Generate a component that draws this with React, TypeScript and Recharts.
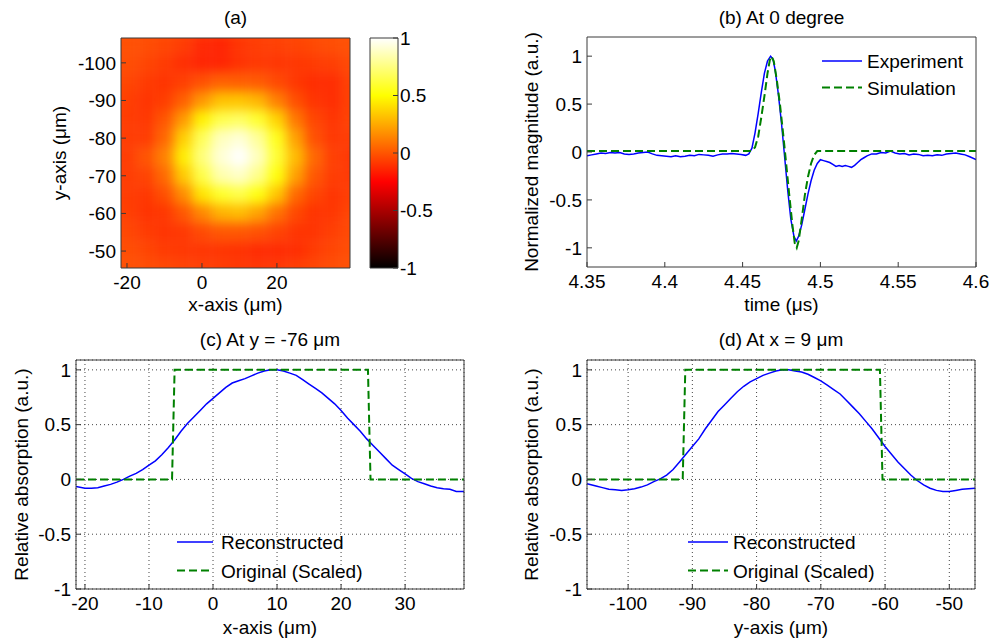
import React from "react";
import { ComposedChart, Line, XAxis, YAxis, CartesianGrid, ReferenceArea, Legend } from "recharts";

// (a) reconstructed map, one value per 5 um cell (rows top -> bottom)
const mapXCenters = [-25, -20, -15, -10, -5, 0, 5, 10, 15, 20, 25, 30, 35, 40];
const mapYCenters = [-110, -105, -100, -95, -90, -85, -80, -75, -70, -65, -60, -55, -50, -45];
const mapValues = [
  [-0.02, -0.02, -0.02, -0.02, -0.04, -0.04, -0.05, -0.05, -0.05, -0.04, -0.03, -0.02, -0.02, -0.02],
  [-0.02, -0.02, -0.03, -0.05, -0.08, -0.14, -0.15, -0.1, -0.08, -0.07, -0.06, -0.04, -0.03, -0.02],
  [-0.03, -0.03, -0.05, -0.08, -0.12, -0.15, -0.15, -0.11, -0.09, -0.1, -0.09, -0.08, -0.07, -0.04],
  [-0.03, -0.05, -0.08, -0.1, -0.07, -0.02, 0.03, 0.02, 0.01, -0.04, -0.09, -0.12, -0.12, -0.06],
  [-0.04, -0.07, -0.1, -0.07, 0.03, 0.19, 0.32, 0.33, 0.28, 0.12, -0.02, -0.1, -0.12, -0.06],
  [-0.05, -0.08, -0.09, 0.0, 0.2, 0.46, 0.65, 0.69, 0.59, 0.37, 0.1, -0.05, -0.1, -0.06],
  [-0.05, -0.08, -0.08, 0.05, 0.36, 0.67, 0.87, 0.92, 0.8, 0.55, 0.22, -0.02, -0.09, -0.08],
  [-0.06, -0.08, -0.01, 0.13, 0.45, 0.74, 0.92, 1.0, 0.87, 0.6, 0.3, 0.05, -0.07, -0.1],
  [-0.06, -0.08, -0.06, 0.06, 0.34, 0.64, 0.84, 0.89, 0.77, 0.52, 0.22, 0.0, -0.08, -0.09],
  [-0.05, -0.08, -0.09, -0.02, 0.16, 0.42, 0.58, 0.64, 0.53, 0.33, 0.06, -0.05, -0.1, -0.07],
  [-0.04, -0.07, -0.1, -0.09, 0.0, 0.14, 0.27, 0.3, 0.22, 0.08, -0.04, -0.1, -0.09, -0.05],
  [-0.02, -0.05, -0.08, -0.1, -0.09, -0.04, 0.0, 0.0, -0.02, -0.06, -0.1, -0.1, -0.07, -0.04],
  [-0.02, -0.03, -0.05, -0.08, -0.09, -0.1, -0.1, -0.11, -0.13, -0.13, -0.12, -0.08, -0.05, -0.03],
  [-0.02, -0.02, -0.03, -0.04, -0.06, -0.07, -0.08, -0.09, -0.1, -0.09, -0.07, -0.05, -0.03, -0.02],
];
const mapXTicks = [-20, 0, 20];
const mapYTicks = [-100, -90, -80, -70, -60, -50];
const barTicks = [-1, -0.5, 0, 0.5, 1];

// (b) pulse at 0 degree
const expTime = [
  4.35, 4.353, 4.356, 4.359, 4.362, 4.365, 4.368, 4.371, 4.374, 4.377, 4.38, 4.383, 4.386, 4.389, 4.392,
  4.395, 4.398, 4.401, 4.404, 4.407, 4.41, 4.413, 4.416, 4.419, 4.422, 4.425, 4.428, 4.431, 4.434, 4.437,
  4.44, 4.443, 4.446, 4.449, 4.452, 4.454, 4.456, 4.458, 4.46, 4.462, 4.464, 4.466, 4.468, 4.4695, 4.471,
  4.473, 4.475, 4.477, 4.479, 4.481, 4.483, 4.4845, 4.486, 4.488, 4.49, 4.492, 4.494, 4.496, 4.498, 4.5,
  4.502, 4.504, 4.506, 4.508, 4.51, 4.512, 4.514, 4.516, 4.518, 4.52, 4.522, 4.524, 4.526, 4.528, 4.53,
  4.533, 4.536, 4.539, 4.542, 4.545, 4.548, 4.551, 4.554, 4.557, 4.56, 4.563, 4.566, 4.569, 4.572, 4.575,
  4.578, 4.581, 4.584, 4.587, 4.59, 4.593, 4.596, 4.6,
];
const expMag = [
  -0.04, -0.03, -0.02, -0.01, -0.015, -0.005, -0.01, -0.005, -0.02, -0.025, -0.02, -0.01, -0.005, 0, -0.02,
  -0.035, -0.04, -0.045, -0.05, -0.04, -0.05, -0.045, -0.035, -0.04, -0.025, -0.03, -0.035, -0.045, -0.03, -0.02,
  -0.02, -0.015, -0.02, -0.025, -0.035, -0.02, 0.04, 0.2, 0.4, 0.62, 0.82, 0.95, 1.0, 0.97, 0.85,
  0.6, 0.3, -0.05, -0.4, -0.7, -0.88, -0.93, -0.88, -0.76, -0.6, -0.44, -0.3, -0.19, -0.12, -0.08,
  -0.09, -0.1, -0.11, -0.13, -0.15, -0.14, -0.15, -0.14, -0.15, -0.16, -0.14, -0.11, -0.08, -0.06, -0.04,
  -0.02, -0.02, -0.005, -0.01, 0.01, -0.01, -0.02, -0.015, -0.03, -0.02, -0.025, -0.04, -0.035, -0.04, -0.03,
  -0.035, -0.02, -0.015, -0.01, -0.02, -0.03, -0.05, -0.08,
];
const simTime = [
  4.35, 4.456, 4.458, 4.46, 4.462, 4.464, 4.466, 4.4675, 4.4685, 4.47, 4.472, 4.474, 4.476,
  4.478, 4.48, 4.482, 4.4835, 4.4848, 4.486, 4.488, 4.49, 4.492, 4.494, 4.496, 4.498, 4.6,
];
const simMag = [
  0.01, 0.01, 0.05, 0.16, 0.36, 0.58, 0.82, 0.96, 1.0, 0.95, 0.75, 0.5, 0.2,
  -0.12, -0.45, -0.76, -0.95, -1.0, -0.93, -0.7, -0.45, -0.26, -0.12, -0.03, 0.01, 0.01,
];
const timeTicks = [4.35, 4.4, 4.45, 4.5, 4.55, 4.6];
const magTicks = [-1, -0.5, 0, 0.5, 1];

// (c) cut at y = -76 um
const cutXPos = [
  -21.4, -20, -19, -18, -17, -16, -15, -14, -13, -12, -11, -10, -9, -8, -7, -6, -5, -4, -3, -2, -1,
  0, 1, 2, 3, 4, 5, 6, 7, 8, 9, 10, 11, 12, 13, 14, 15, 16, 17, 18, 19, 20, 21, 22, 23, 24, 25, 26,
  27, 28, 29, 30, 31, 32, 33, 34, 35, 36, 37, 38, 39.2,
];
const cutXRecon = [
  -0.065, -0.08, -0.08, -0.075, -0.06, -0.045, -0.025, 0.0, 0.03, 0.055, 0.09, 0.13, 0.17, 0.225, 0.29, 0.36, 0.44, 0.51, 0.57, 0.63, 0.69,
  0.74, 0.79, 0.84, 0.88, 0.9, 0.92, 0.945, 0.97, 0.99, 1.0, 1.0, 0.99, 0.97, 0.95, 0.91, 0.87, 0.83, 0.79, 0.74, 0.69, 0.63, 0.56, 0.5, 0.44, 0.37, 0.31, 0.25,
  0.19, 0.13, 0.09, 0.05, 0.01, -0.02, -0.04, -0.06, -0.075, -0.085, -0.09, -0.11, -0.11,
];
const cutXStepPos = [-21.4, -6.4, -6.0, 24.2, 24.6, 39.2];
const cutXStepVal = [0, 0, 1, 1, 0, 0];
const cutXTicks = [-20, -10, 0, 10, 20, 30];

// (d) cut at x = 9 um
const cutYPos = [
  -106.4, -105, -104, -103, -102, -101, -100, -99, -98, -97, -96, -95, -94, -93, -92, -91, -90, -89, -88, -87, -86,
  -85, -84, -83, -82, -81, -80, -79, -78, -77, -76, -75, -74, -73, -72, -71, -70, -69, -68, -67, -66,
  -65, -64, -63, -62, -61, -60, -59, -58, -57, -56, -55, -54, -53, -52, -51, -50, -49, -48, -47, -46,
];
const cutYRecon = [
  -0.04, -0.06, -0.075, -0.09, -0.095, -0.1, -0.095, -0.085, -0.07, -0.05, -0.02, 0.005, 0.04, 0.09, 0.16, 0.23, 0.3, 0.37, 0.46, 0.54, 0.62,
  0.68, 0.74, 0.8, 0.85, 0.89, 0.92, 0.95, 0.97, 0.99, 1.0, 1.0, 0.99, 0.98, 0.96, 0.93, 0.9, 0.86, 0.82, 0.78, 0.72,
  0.66, 0.6, 0.53, 0.46, 0.38, 0.3, 0.23, 0.16, 0.1, 0.04, -0.01, -0.05, -0.08, -0.1, -0.11, -0.11, -0.1, -0.09, -0.085, -0.08,
];
const cutYStepPos = [-106.4, -91.5, -91.1, -60.8, -60.4, -46];
const cutYStepVal = [0, 0, 1, 1, 0, 0];
const cutYTicks = [-100, -90, -80, -70, -60, -50];
const absTicks = [-1, -0.5, 0, 0.5, 1];

const FONT = '"Liberation Sans", Arial, sans-serif';
const AXIS = "#3a3a3a";
const TICK = { fill: "#000", fontSize: 19 };
const BLUE = "#0000ff";
const GREEN = "#008000";

const zip = (xs: number[], ys: number[]) => xs.map((x, i) => ({ x, y: ys[i] }));

const hot = (v: number) => {
  const t = Math.max(0, Math.min(1, (v + 1) / 2));
  const c = (a: number) => Math.round(255 * Math.max(0, Math.min(1, a)));
  return `rgb(${c(t / 0.375)},${c((t - 0.375) / 0.375)},${c((t - 0.75) / 0.25)})`;
};

type FrameOpts = {
  xDomain: [number, number];
  yDomain: [number, number];
  xTicks: number[];
  yTicks: number[];
  xLabel: string;
  yLabel: string;
  title: string;
  yWidth: number;
  xHeight: number;
  yLabelX: number;
  titleGap: number;
  reversed?: boolean;
};

// box with inward ticks on all four sides, like matlab
function frame(o: FrameOpts) {
  return [
    <XAxis
      key="xb"
      xAxisId={0}
      type="number"
      dataKey="x"
      domain={o.xDomain}
      ticks={o.xTicks}
      interval={0}
      allowDataOverflow
      height={o.xHeight}
      stroke={AXIS}
      tickSize={-5}
      tickMargin={13}
      tick={TICK}
      label={{ value: o.xLabel, position: "insideBottom", offset: 9, fill: "#000" }}
    />,
    <XAxis
      key="xt"
      xAxisId="top"
      orientation="top"
      type="number"
      domain={o.xDomain}
      ticks={o.xTicks}
      interval={0}
      allowDataOverflow
      height={1}
      stroke={AXIS}
      tickSize={-5}
      tick={false}
      label={{ value: o.title, position: "top", offset: o.titleGap, fill: "#000" }}
    />,
    <YAxis
      key="yl"
      yAxisId={0}
      type="number"
      domain={o.yDomain}
      ticks={o.yTicks}
      interval={0}
      allowDataOverflow
      reversed={o.reversed}
      width={o.yWidth}
      stroke={AXIS}
      tickSize={-5}
      tickMargin={10}
      tick={TICK}
      label={{ value: o.yLabel, angle: -90, position: "insideLeft", offset: o.yLabelX, fill: "#000", style: { textAnchor: "middle" } }}
    />,
    <YAxis
      key="yr"
      yAxisId="right"
      orientation="right"
      type="number"
      domain={o.yDomain}
      ticks={o.yTicks}
      interval={0}
      allowDataOverflow
      reversed={o.reversed}
      width={1}
      stroke={AXIS}
      tickSize={-5}
      tick={false}
    />,
  ];
}

type LegendItem = { name: string; color: string; width: number; dash?: string };

function legendBox(items: LegendItem[], lineW: number, gap: number, rowH: number) {
  return () => (
    <svg width={260} height={rowH * items.length + 12}>
      {items.map((it, i) => {
        const cy = 14 + i * rowH;
        return (
          <g key={it.name}>
            <line x1={0} x2={lineW} y1={cy} y2={cy} stroke={it.color} strokeWidth={it.width} strokeDasharray={it.dash} />
            <text x={lineW + gap} y={cy + 7} fontSize={19} fill="#000">
              {it.name}
            </text>
          </g>
        );
      })}
    </svg>
  );
}

// colour bar body: the hot colormap as a vertical gradient
const HotBar = (props: any) => {
  const { x, y, width, height } = props;
  return (
    <g>
      <defs>
        <linearGradient id="hotBarGrad" x1="0" y1="1" x2="0" y2="0">
          <stop offset="0" stopColor="#000000" />
          <stop offset="0.375" stopColor="#ff0000" />
          <stop offset="0.75" stopColor="#ffff00" />
          <stop offset="1" stopColor="#ffffff" />
        </linearGradient>
      </defs>
      <rect x={x} y={y} width={width} height={height} fill="url(#hotBarGrad)" />
    </g>
  );
};

const mapXDomain: [number, number] = [-21.6, 39.5];
const mapYDomain: [number, number] = [-106.6, -45.5];

function MapPanel() {
  const pad = 10;
  const last = mapXCenters.length - 1;
  const cells = mapValues.flatMap((row, i) =>
    row.map((v, j) => ({
      key: `${i}-${j}`,
      x1: mapXCenters[j] - 2.5 - (j === 0 ? pad : 0),
      x2: mapXCenters[j] + 2.5 + (j === last ? pad : 0),
      y1: mapYCenters[i] - 2.5 - (i === 0 ? pad : 0),
      y2: mapYCenters[i] + 2.5 + (i === mapYCenters.length - 1 ? pad : 0),
      fill: hot(v),
    }))
  );
  return (
    <>
      <div style={{ position: "absolute", left: 0, top: 0, width: 420, height: 340, clipPath: "inset(38px 70px 72px 121px)" }}>
        <div style={{ filter: "blur(6px)" }}>
          <ComposedChart width={420} height={340} margin={{ top: 38, right: 70, bottom: 72, left: 121 }}>
            <XAxis type="number" dataKey="x" domain={mapXDomain} allowDataOverflow hide />
            <YAxis type="number" domain={mapYDomain} allowDataOverflow reversed hide />
            {cells.map((c) => (
              <ReferenceArea
                key={c.key}
                x1={c.x1}
                x2={c.x2}
                y1={c.y1}
                y2={c.y2}
                fill={c.fill}
                fillOpacity={1}
                stroke="none"
                ifOverflow="visible"
              />
            ))}
          </ComposedChart>
        </div>
      </div>
      <div style={{ position: "absolute", left: 0, top: 0 }}>
        <ComposedChart width={360} height={320} margin={{ top: 37, right: 9, bottom: 0, left: 0 }}>
          {frame({
            xDomain: mapXDomain,
            yDomain: mapYDomain,
            xTicks: mapXTicks,
            yTicks: mapYTicks,
            xLabel: "x-axis (μm)",
            yLabel: "y-axis (μm)",
            title: "(a)",
            yWidth: 121,
            xHeight: 52,
            yLabelX: 59,
            titleGap: 13,
            reversed: true,
          })}
        </ComposedChart>
      </div>
      {/* colour bar: gradient layer, then its frame and labels */}
      <div style={{ position: "absolute", left: 360, top: 0 }}>
        <ComposedChart width={100} height={320} margin={{ top: 38, right: 62, bottom: 52, left: 10 }}>
          <XAxis type="number" dataKey="x" domain={[0, 1]} allowDataOverflow hide />
          <YAxis type="number" domain={[-1, 1]} allowDataOverflow hide />
          <ReferenceArea x1={0} x2={1} y1={-1} y2={1} shape={HotBar} fillOpacity={1} ifOverflow="visible" />
        </ComposedChart>
      </div>
      <div style={{ position: "absolute", left: 360, top: 0 }}>
        <ComposedChart width={100} height={320} margin={{ top: 37, right: 0, bottom: 51, left: 9 }}>
          <XAxis xAxisId={0} type="number" dataKey="x" domain={[0, 1]} ticks={[0, 1]} height={1} tick={false} tickLine={false} stroke={AXIS} allowDataOverflow />
          <XAxis xAxisId="top" orientation="top" type="number" domain={[0, 1]} ticks={[0, 1]} height={1} tick={false} tickLine={false} stroke={AXIS} allowDataOverflow />
          <YAxis yAxisId={0} type="number" domain={[-1, 1]} ticks={barTicks} interval={0} width={1} tick={false} tickSize={-5} stroke={AXIS} allowDataOverflow />
          <YAxis
            yAxisId="right"
            orientation="right"
            type="number"
            domain={[-1, 1]}
            ticks={barTicks}
            interval={0}
            width={62}
            tickSize={-5}
            tickMargin={7}
            tick={TICK}
            stroke={AXIS}
            allowDataOverflow
          />
        </ComposedChart>
      </div>
    </>
  );
}

function PulsePanel() {
  return (
    <div style={{ position: "absolute", left: 500, top: 0 }}>
      <ComposedChart width={495} height={320} margin={{ top: 36, right: 18, bottom: 0, left: 0 }}>
        {frame({
          xDomain: [4.35, 4.6],
          yDomain: [-1.2, 1.2],
          xTicks: timeTicks,
          yTicks: magTicks,
          xLabel: "time (μs)",
          yLabel: "Normalized magnitude (a.u.)",
          title: "(b) At 0 degree",
          yWidth: 87,
          xHeight: 53,
          yLabelX: 31,
          titleGap: 12,
        })}
        <Line data={zip(expTime, expMag)} dataKey="y" name="Experiment" stroke={BLUE} strokeWidth={1.5} dot={false} isAnimationActive={false} />
        <Line data={zip(simTime, simMag)} dataKey="y" name="Simulation" stroke={GREEN} strokeWidth={2} strokeDasharray="8 4" dot={false} isAnimationActive={false} />
        <Legend
          layout="vertical"
          align="center"
          verticalAlign="middle"
          wrapperStyle={{ left: 322, top: 47, width: 260 }}
          content={legendBox(
            [
              { name: "Experiment", color: BLUE, width: 1.5 },
              { name: "Simulation", color: GREEN, width: 2, dash: "8 4" },
            ],
            40,
            5,
            26.5
          )}
        />
      </ComposedChart>
    </div>
  );
}

type CutProps = {
  left: number;
  width: number;
  yWidth: number;
  xDomain: [number, number];
  xTicks: number[];
  pos: number[];
  recon: number[];
  stepPos: number[];
  stepVal: number[];
  xLabel: string;
  title: string;
  yLabelX: number;
  legendLeft: number;
  legendLine: number;
  legendGap: number;
};

function CutPanel(p: CutProps) {
  return (
    <div style={{ position: "absolute", left: p.left, top: 320 }}>
      <ComposedChart width={p.width} height={323} margin={{ top: 39, right: p.width - p.yWidth - 388 - 1, bottom: 0, left: 0 }}>
        <CartesianGrid stroke="#444" strokeDasharray="1 3" />
        {frame({
          xDomain: p.xDomain,
          yDomain: [-1, 1.09],
          xTicks: p.xTicks,
          yTicks: absTicks,
          xLabel: p.xLabel,
          yLabel: "Relative absorption (a.u.)",
          title: p.title,
          yWidth: p.yWidth,
          xHeight: 54,
          yLabelX: p.yLabelX,
          titleGap: 13,
        })}
        <Line data={zip(p.pos, p.recon)} dataKey="y" name="Reconstructed" stroke={BLUE} strokeWidth={1.5} dot={false} isAnimationActive={false} />
        <Line data={zip(p.stepPos, p.stepVal)} dataKey="y" name="Original (Scaled)" stroke={GREEN} strokeWidth={2} strokeDasharray="8 4" dot={false} isAnimationActive={false} />
        <Legend
          layout="vertical"
          align="center"
          verticalAlign="middle"
          wrapperStyle={{ left: p.legendLeft, top: 207.5, width: 260 }}
          content={legendBox(
            [
              { name: "Reconstructed", color: BLUE, width: 1.5 },
              { name: "Original (Scaled)", color: GREEN, width: 2, dash: "8 4" },
            ],
            p.legendLine,
            p.legendGap,
            28.5
          )}
        />
      </ComposedChart>
    </div>
  );
}

export default function App() {
  return (
    <div
      style={{
        position: "absolute",
        left: 0,
        top: 0,
        width: 995,
        height: 643,
        background: "#fff",
        fontFamily: FONT,
        fontSize: 19,
        color: "#000",
        overflow: "hidden",
      }}
    >
      <MapPanel />
      <PulsePanel />
      <CutPanel
        left={0}
        width={480}
        yWidth={76}
        xDomain={[-21.4, 39.2]}
        xTicks={cutXTicks}
        pos={cutXPos}
        recon={cutXRecon}
        stepPos={cutXStepPos}
        stepVal={cutXStepVal}
        xLabel="x-axis (μm)"
        title="(c) At y = -76 μm"
        yLabelX={21}
        legendLeft={177}
        legendLine={36}
        legendGap={8}
      />
      <CutPanel
        left={500}
        width={495}
        yWidth={87}
        xDomain={[-106.4, -46]}
        xTicks={cutYTicks}
        pos={cutYPos}
        recon={cutYRecon}
        stepPos={cutYStepPos}
        stepVal={cutYStepVal}
        xLabel="y-axis (μm)"
        title="(d) At x = 9 μm"
        yLabelX={31}
        legendLeft={188}
        legendLine={40}
        legendGap={5}
      />
    </div>
  );
}
